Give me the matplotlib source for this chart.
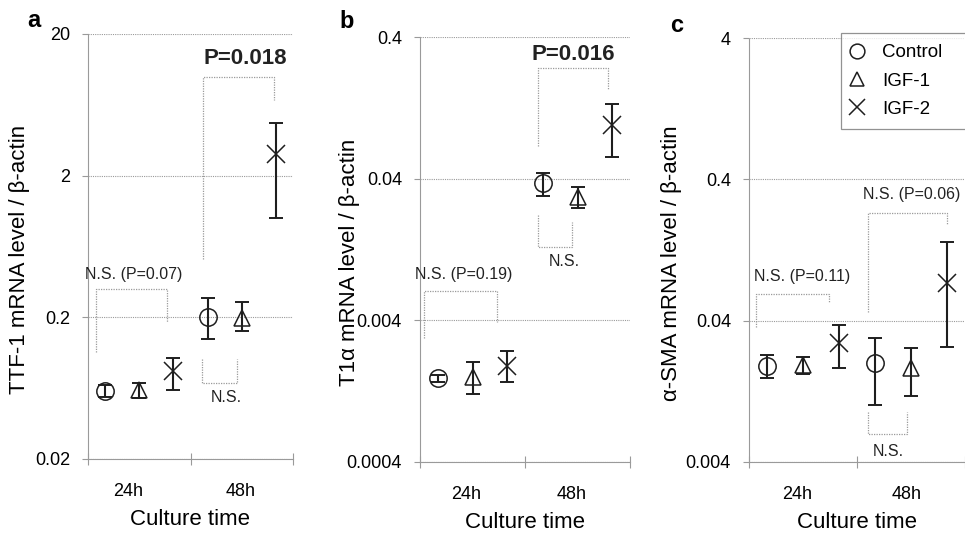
import matplotlib
matplotlib.use("Agg")
import matplotlib.pyplot as plt
import numpy as np

plt.rcParams["font.family"] = ["Liberation Sans", "DejaVu Sans"]

GROUPS = ["Control", "IGF-1", "IGF-2"]
TIMES = ["24h", "48h"]
MARKERS = ["o", "^", "x"]

# rows: Control, IGF-1, IGF-2 ; columns: 24h, 48h
TTF1_MEAN = [[0.060, 0.200], [0.061, 0.198], [0.083, 2.86]]
TTF1_LOW = [[0.055, 0.140], [0.054, 0.159], [0.061, 1.01]]
TTF1_HIGH = [[0.067, 0.272], [0.069, 0.255], [0.103, 4.67]]

T1A_MEAN = [[0.00156, 0.0373], [0.00158, 0.0298], [0.00189, 0.0963]]
T1A_LOW = [[0.00147, 0.0302], [0.00120, 0.0250], [0.00148, 0.057]]
T1A_HIGH = [[0.00165, 0.0439], [0.00202, 0.0350], [0.00242, 0.135]]

SMA_MEAN = [[0.0192, 0.0202], [0.0194, 0.0186], [0.0280, 0.0743]]
SMA_LOW = [[0.0156, 0.0102], [0.0167, 0.0118], [0.0186, 0.0262]]
SMA_HIGH = [[0.0230, 0.0303], [0.0220, 0.0258], [0.0374, 0.145]]

TTF1_TICKS = [0.02, 0.2, 2, 20]
TTF1_TICKLABELS = ["0.02", "0.2", "2", "20"]
T1A_TICKS = [0.0004, 0.004, 0.04, 0.4]
T1A_TICKLABELS = ["0.0004", "0.004", "0.04", "0.4"]
SMA_TICKS = [0.004, 0.04, 0.4, 4]
SMA_TICKLABELS = ["0.004", "0.04", "0.4", "4"]

# significance brackets: (x_left, x_right, y_left_end, y_right_end, y_bar, label, label_x, label_y, bold)
TTF1_BRACKETS = [
    (0.08, 0.77, 0.113, 0.184, 0.315, "N.S. (P=0.07)", 0.45, 0.40, False),
    (1.11, 1.45, 0.101, 0.101, 0.069, "N.S.", 1.35, 0.054, False),
    (1.12, 1.81, 0.52, 6.8, 10.0, "P=0.018", 1.53, 13.4, True),
]
T1A_BRACKETS = [
    (0.04, 0.73, 0.0030, 0.0039, 0.0064, "N.S. (P=0.19)", 0.42, 0.0084, False),
    (1.12, 1.79, 0.068, 0.17, 0.24, "P=0.016", 1.46, 0.30, True),
    (1.12, 1.45, 0.0223, 0.0199, 0.0132, "N.S.", 1.37, 0.0104, False),
]
SMA_BRACKETS = [
    (0.065, 0.74, 0.0362, 0.0536, 0.062, "N.S. (P=0.11)", 0.49, 0.082, False),
    (1.10, 1.83, 0.0462, 0.194, 0.232, "N.S. (P=0.06)", 1.51, 0.311, False),
    (1.10, 1.46, 0.00896, 0.00896, 0.00635, "N.S.", 1.29, 0.00475, False),
]

OFFSETS = [0.17, 0.5, 0.83]
GRAY = "#9a9a9a"
DOT = (0, (1, 1))


def panel(ax, mean, low, high, ticks, ticklabels, brackets, ylabel,
          letter, letter_xy, xlab_pos, ylab_x):
    mean, low, high = np.array(mean), np.array(low), np.array(high)
    for g, (name, mk) in enumerate(zip(GROUPS, MARKERS)):
        xs = np.arange(len(TIMES)) + OFFSETS[g]
        yerr = [mean[g] - low[g], high[g] - mean[g]]
        ax.errorbar(xs, mean[g], yerr=yerr, fmt="none", ecolor="#1e1e1e",
                    elinewidth=1.5, capsize=5, capthick=1.4, zorder=3)
        if mk == "x":
            ax.plot(xs, mean[g], ls="none", marker="x", ms=13, mew=1.1,
                    color="#1e1e1e", zorder=4, label=name)
        else:
            ax.plot(xs, mean[g], ls="none", marker=mk, ms=12.5 if mk == "o" else 12,
                    mfc="none", mec="#1e1e1e", mew=1.1, zorder=4, label=name)

    for xl, xr, yl, yr, yb, txt, tx, ty, bold in brackets:
        ax.plot([xl, xl, xr, xr], [yl, yb, yb, yr], color=GRAY, lw=0.9,
                ls=DOT, zorder=2)
        ax.text(tx, ty, txt, ha="center", va="center",
                fontsize=16 if bold else 11.5,
                fontweight="bold" if bold else "normal", color="#222222")

    ax.set_yscale("log")
    ax.set_ylim(ticks[0], ticks[-1])
    ax.set_yticks(ticks)
    ax.set_yticklabels(ticklabels)
    ax.yaxis.set_minor_locator(matplotlib.ticker.NullLocator())
    ax.set_xlim(0, 2)
    ax.set_xticks([0, 1, 2])
    ax.set_xticklabels(["", "", ""])
    ax.set_xticks(xlab_pos, minor=True)
    ax.set_xticklabels(TIMES, minor=True)
    ax.tick_params(axis="x", which="minor", length=0, pad=17, labelsize=13)
    ax.tick_params(axis="x", which="major", direction="inout", length=9,
                   color=GRAY, width=0.8)
    ax.tick_params(axis="y", which="major", direction="out", length=4,
                   color=GRAY, width=0.8, pad=9, labelsize=13)
    ax.grid(axis="y", color=GRAY, lw=0.8, ls=DOT)
    for s in ["top", "right"]:
        ax.spines[s].set_visible(False)
    for s in ["left", "bottom"]:
        ax.spines[s].set_color(GRAY)
        ax.spines[s].set_linewidth(0.8)
        ax.spines[s].set_linestyle(DOT)
    ax.set_xlabel("Culture time", fontsize=16, labelpad=7)
    ax.set_ylabel(ylabel, fontsize=16)
    ax.yaxis.set_label_coords(ylab_x, 0.47)
    fig.text(letter_xy[0] / 965, 1 - letter_xy[1] / 535, letter,
             fontsize=17, fontweight="bold", ha="center", va="baseline")


fig = plt.figure(figsize=(9.65, 5.35), dpi=100)
H = 535.0
W = 965.0
ax_a = fig.add_axes([88 / W, 1 - 459 / H, 205 / W, 425 / H])
ax_b = fig.add_axes([420 / W, 1 - 462 / H, 210 / W, 425 / H])
ax_c = fig.add_axes([749 / W, 1 - 462 / H, 216 / W, 424 / H])

panel(ax_a, TTF1_MEAN, TTF1_LOW, TTF1_HIGH, TTF1_TICKS, TTF1_TICKLABELS,
      TTF1_BRACKETS, "TTF-1 mRNA level / β-actin", "a", (34, 27),
      [0.39, 1.49], -0.285)
panel(ax_b, T1A_MEAN, T1A_LOW, T1A_HIGH, T1A_TICKS, T1A_TICKLABELS,
      T1A_BRACKETS, "T1α mRNA level / β-actin", "b", (347, 28),
      [0.44, 1.44], -0.285)
panel(ax_c, SMA_MEAN, SMA_LOW, SMA_HIGH, SMA_TICKS, SMA_TICKLABELS,
      SMA_BRACKETS, "α-SMA mRNA level / β-actin", "c", (677, 32),
      [0.45, 1.46], -0.31)

leg = ax_c.legend(loc="upper left", bbox_to_anchor=(0.426, 0.78, 0.62, 0.232),
                  mode="expand", borderaxespad=0,
                  fontsize=13.5, frameon=True, fancybox=False,
                  handletextpad=1.05, labelspacing=0.6, handlelength=0.55,
                  borderpad=0.6, markerscale=0.85)
leg.get_frame().set_edgecolor("#777777")
leg.get_frame().set_linewidth(0.9)
leg.set_clip_on(False)

fig.savefig("out.png", dpi=100)
